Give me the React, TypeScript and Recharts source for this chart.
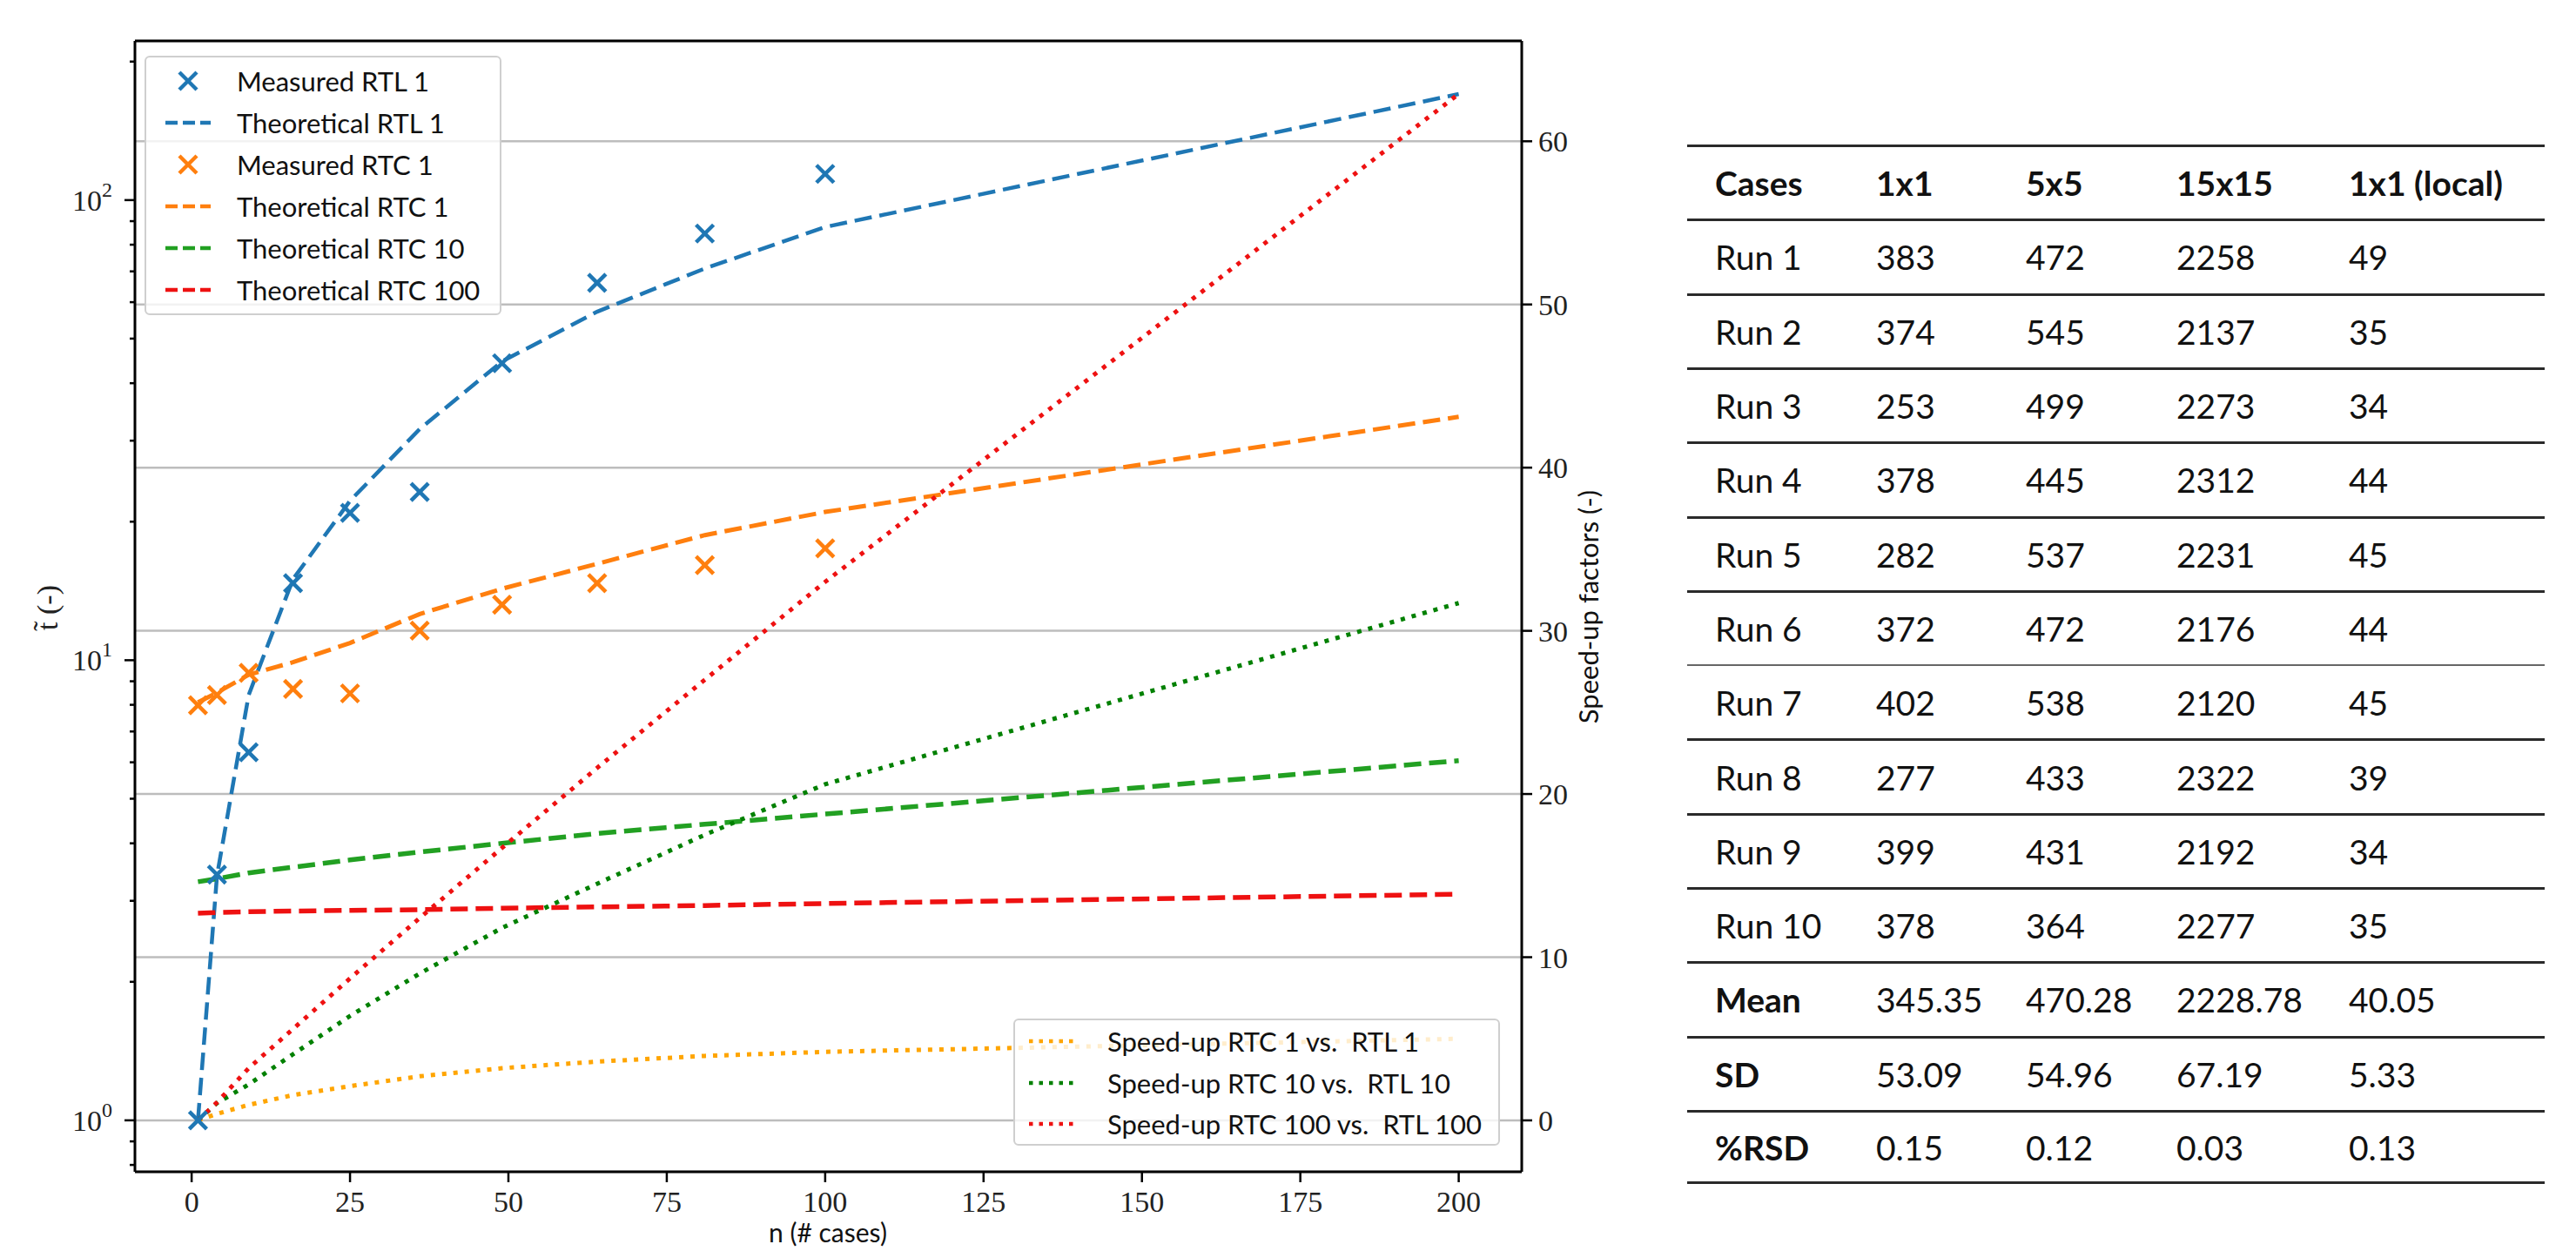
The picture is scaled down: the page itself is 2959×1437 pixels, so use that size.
import React from 'react';
import { ComposedChart, Line, Scatter, XAxis, YAxis, CartesianGrid, ReferenceLine } from 'recharts';

// n values where the theoretical curves and speed-ups are evaluated
const cases = [1, 4, 9, 16, 25, 36, 49, 64, 81, 100, 200];
const theoreticalRTL1 = [1.0, 3.4, 8.4, 15.0, 22.2, 31.8, 44.6, 57.2, 71.0, 87.4, 170];
const theoreticalRTC1 = [8.1, 8.5, 9.3, 9.9, 10.9, 12.6, 14.3, 16.2, 18.7, 21.0, 33.8];
const theoreticalRTC10 = [3.3, 3.35, 3.45, 3.55, 3.68, 3.83, 4.0, 4.2, 4.4, 4.63, 6.05];
const theoreticalRTC100 = [2.82, 2.83, 2.84, 2.85, 2.86, 2.87, 2.89, 2.91, 2.93, 2.96, 3.1];
const speedup1 = [0, 0.4, 0.95, 1.55, 2.1, 2.7, 3.2, 3.6, 3.95, 4.2, 5.0];
const speedup10 = [0, 1.06, 2.2, 4.05, 6.4, 9.0, 11.8, 14.5, 17.5, 20.6, 31.7];
const speedup100 = [0, 1.1, 3.2, 5.6, 8.7, 12.4, 16.7, 21.6, 27.0, 33.0, 62.9];

// measured points
const measuredCases = [1, 4, 9, 16, 25, 36, 49, 64, 81, 100];
const measuredRTL1 = [1.0, 3.42, 6.31, 14.7, 20.9, 23.2, 44.2, 66.1, 84.6, 114];
const measuredRTC1 = [7.98, 8.4, 9.39, 8.66, 8.47, 11.6, 13.2, 14.7, 16.1, 17.5];

const xTicks = [0, 25, 50, 75, 100, 125, 150, 175, 200];
const speedTicks = [0, 10, 20, 30, 40, 50, 60];
const logMajor = [1, 10, 100];
const logMinor = [0.8, 0.9, 2, 3, 4, 5, 6, 7, 8, 9, 20, 30, 40, 50, 60, 70, 80, 90, 200];

// table on the right
const tableHeader = ['Cases', '1x1', '5x5', '15x15', '1x1 (local)'];
const rowLabels = ['Run 1', 'Run 2', 'Run 3', 'Run 4', 'Run 5', 'Run 6', 'Run 7', 'Run 8', 'Run 9', 'Run 10', 'Mean', 'SD', '%RSD'];
const col1x1 = ['383', '374', '253', '378', '282', '372', '402', '277', '399', '378', '345.35', '53.09', '0.15'];
const col5x5 = ['472', '545', '499', '445', '537', '472', '538', '433', '431', '364', '470.28', '54.96', '0.12'];
const col15x15 = ['2258', '2137', '2273', '2312', '2231', '2176', '2120', '2322', '2192', '2277', '2228.78', '67.19', '0.03'];
const colLocal = ['49', '35', '34', '44', '45', '44', '45', '39', '34', '35', '40.05', '5.33', '0.13'];

const theoryData = cases.map((n, i) => ({
  n,
  rtl1: theoreticalRTL1[i],
  rtc1: theoreticalRTC1[i],
  rtc10: theoreticalRTC10[i],
  rtc100: theoreticalRTC100[i],
  s1: speedup1[i],
  s10: speedup10[i],
  s100: speedup100[i],
}));

const measuredData = measuredCases.map((n, i) => ({ n, rtl1: measuredRTL1[i], rtc1: measuredRTC1[i] }));

const BLUE = '#1f77b4';
const ORANGE = '#ff7f0e';
const GREEN = '#22a022';
const DARKGREEN = '#008000';
const RED = '#ee1111';
const GOLD = '#ffa500';

const SERIF = '"Liberation Serif", "DejaVu Serif", serif';
const SANS = 'Lato, "Open Sans", sans-serif';

const DASH = '20 9';
const DOT = '5 8';

const XMark = ({ cx, cy, color }: { cx?: number; cy?: number; color: string }) => {
  if (cx == null || cy == null) return null;
  const s = 10;
  return (
    <g stroke={color} strokeWidth={4.5}>
      <line x1={cx - s} y1={cy - s} x2={cx + s} y2={cy + s} />
      <line x1={cx - s} y1={cy + s} x2={cx + s} y2={cy - s} />
    </g>
  );
};

const LogTick = (props: any) => {
  const { x, y, payload } = props;
  const v = payload.value;
  const major = logMajor.includes(v);
  const exp = Math.round(Math.log10(v));
  return (
    <g>
      <line x1={x - (major ? 12 : 6)} x2={x} y1={y} y2={y} stroke="#000" strokeWidth={2.5} />
      {major && (
        <text x={x - 26} y={y + 12} textAnchor="end" fontFamily={SERIF} fontSize={34} fill="#222">
          10
          <tspan dy={-16} fontSize={24}>{exp}</tspan>
        </text>
      )}
    </g>
  );
};

const LegendSample = ({ color, dash, marker, width }: { color: string; dash?: string; marker?: boolean; width: number }) => (
  <svg width={56} height={24} style={{ display: 'block' }}>
    {marker ? (
      <XMark cx={28} cy={12} color={color} />
    ) : (
      <line x1={2} x2={54} y1={12} y2={12} stroke={color} strokeWidth={width} strokeDasharray={dash} />
    )}
  </svg>
);

const legendTop = [
  { label: 'Measured RTL 1', color: BLUE, marker: true },
  { label: 'Theoretical RTL 1', color: BLUE, dash: '14 6' },
  { label: 'Measured RTC 1', color: ORANGE, marker: true },
  { label: 'Theoretical RTC 1', color: ORANGE, dash: '14 6' },
  { label: 'Theoretical RTC 10', color: GREEN, dash: '14 6' },
  { label: 'Theoretical RTC 100', color: RED, dash: '14 6' },
];

const legendBottom = [
  { label: 'Speed-up RTC 1 vs.  RTL 1', color: GOLD },
  { label: 'Speed-up RTC 10 vs.  RTL 10', color: DARKGREEN },
  { label: 'Speed-up RTC 100 vs.  RTL 100', color: RED },
];

const legendBox: React.CSSProperties = {
  position: 'absolute',
  background: 'rgba(255,255,255,0.8)',
  border: '2px solid #cfcfcf',
  borderRadius: 6,
  boxSizing: 'border-box',
  fontFamily: SANS,
  fontSize: 31,
  color: '#111',
};

const ROW_H = 85.3;

const App = () => {
  const tableCols = [rowLabels, col1x1, col5x5, col15x15, colLocal];
  const colX = [32, 217, 389, 562, 760];
  return (
    <div style={{ position: 'absolute', left: 0, top: 0, width: 2959, height: 1437, background: '#fff', overflow: 'hidden' }}>
      <div style={{ position: 'absolute', left: 0, top: 0 }}>
        <ComposedChart width={1900} height={1437} data={theoryData} margin={{ top: 47, right: 0, bottom: 0, left: 0 }}>
          <CartesianGrid yAxisId="right" vertical={false} stroke="#bdbdbd" strokeWidth={2.5} />
          <XAxis
            dataKey="n"
            type="number"
            domain={[-8.95, 209.95]}
            allowDataOverflow
            ticks={xTicks}
            interval={0}
            height={91}
            tickSize={12}
            tickMargin={10}
            axisLine={{ stroke: '#000', strokeWidth: 3 }}
            tickLine={{ stroke: '#000', strokeWidth: 2.5 }}
            tick={{ fontFamily: SERIF, fontSize: 34, fill: '#222' }}
          />
          <YAxis
            yAxisId="left"
            scale="log"
            type="number"
            domain={[0.773, 221.8]}
            allowDataOverflow
            ticks={[...logMinor.slice(0, 2), 1, ...logMinor.slice(2, 10), 10, ...logMinor.slice(10, 18), 100, 200]}
            interval={0}
            width={155}
            tickSize={0}
            tickMargin={0}
            tickLine={false}
            axisLine={{ stroke: '#000', strokeWidth: 3 }}
            tick={<LogTick />}
          />
          <YAxis
            yAxisId="right"
            orientation="right"
            type="number"
            domain={[-3.15, 66.15]}
            allowDataOverflow
            ticks={speedTicks}
            interval={0}
            width={152}
            tickSize={12}
            tickMargin={7}
            axisLine={{ stroke: '#000', strokeWidth: 3 }}
            tickLine={{ stroke: '#000', strokeWidth: 2.5 }}
            tick={{ fontFamily: SERIF, fontSize: 34, fill: '#222' }}
          />
          <ReferenceLine yAxisId="right" y={66.15} stroke="#000" strokeWidth={3} />

          <Line yAxisId="left" dataKey="rtl1" type="linear" stroke={BLUE} strokeWidth={4.5} strokeDasharray={DASH} dot={false} isAnimationActive={false} />
          <Line yAxisId="left" dataKey="rtc1" type="linear" stroke={ORANGE} strokeWidth={5} strokeDasharray={DASH} dot={false} isAnimationActive={false} />
          <Line yAxisId="left" dataKey="rtc10" type="linear" stroke={GREEN} strokeWidth={5.5} strokeDasharray={DASH} dot={false} isAnimationActive={false} />
          <Line yAxisId="left" dataKey="rtc100" type="linear" stroke={RED} strokeWidth={5.5} strokeDasharray={DASH} dot={false} isAnimationActive={false} />

          <Line yAxisId="right" dataKey="s1" type="linear" stroke={GOLD} strokeWidth={5} strokeDasharray={DOT} dot={false} isAnimationActive={false} />
          <Line yAxisId="right" dataKey="s10" type="linear" stroke={DARKGREEN} strokeWidth={5} strokeDasharray={DOT} dot={false} isAnimationActive={false} />
          <Line yAxisId="right" dataKey="s100" type="linear" stroke={RED} strokeWidth={5} strokeDasharray={DOT} dot={false} isAnimationActive={false} />

          <Scatter yAxisId="left" data={measuredData} dataKey="rtl1" isAnimationActive={false} shape={(p: any) => <XMark cx={p.cx} cy={p.cy} color={BLUE} />} />
          <Scatter yAxisId="left" data={measuredData} dataKey="rtc1" isAnimationActive={false} shape={(p: any) => <XMark cx={p.cx} cy={p.cy} color={ORANGE} />} />
        </ComposedChart>
      </div>

      {/* upper-left legend */}
      <div style={{ ...legendBox, left: 166, top: 64, width: 410, height: 298 }}>
        {legendTop.map((e, i) => (
          <div key={e.label} style={{ position: 'absolute', left: 20, top: 27 + i * 48 - 12, height: 24, display: 'flex', alignItems: 'center' }}>
            <LegendSample color={e.color} dash={e.dash} marker={e.marker} width={4.5} />
            <span style={{ marginLeft: 28, lineHeight: '24px', whiteSpace: 'pre' }}>{e.label}</span>
          </div>
        ))}
      </div>

      {/* lower-right legend */}
      <div style={{ ...legendBox, left: 1164, top: 1170, width: 559, height: 146 }}>
        {legendBottom.map((e, i) => (
          <div key={e.label} style={{ position: 'absolute', left: 14, top: 24 + i * 47.5 - 12, height: 24, display: 'flex', alignItems: 'center' }}>
            <LegendSample color={e.color} dash="4.5 7" width={4.5} />
            <span style={{ marginLeft: 36, lineHeight: '24px', whiteSpace: 'pre' }}>{e.label}</span>
          </div>
        ))}
      </div>

      {/* axis labels */}
      <div style={{ position: 'absolute', left: 55, top: 698, transform: 'translate(-50%, -50%) rotate(-90deg)', fontFamily: SERIF, fontSize: 34, color: '#222', whiteSpace: 'nowrap' }}>
        t&#771; (-)
      </div>
      <div style={{ position: 'absolute', left: 1824, top: 697, transform: 'translate(-50%, -50%) rotate(-90deg)', fontFamily: SANS, fontSize: 31, color: '#111', whiteSpace: 'nowrap' }}>
        Speed-up factors (-)
      </div>
      <div style={{ position: 'absolute', left: 951, top: 1397, lineHeight: '36px', transform: 'translateX(-50%)', fontFamily: SANS, fontSize: 30, color: '#111', whiteSpace: 'nowrap' }}>
        n (# cases)
      </div>

      {/* table */}
      <div style={{ position: 'absolute', left: 1938, top: 166, width: 985, fontFamily: SANS, fontSize: 39, color: '#111' }}>
        {[tableHeader, ...rowLabels.map((_, r) => tableCols.map((c) => c[r]))].map((row, r) => {
          const bold = r === 0;
          const thin = r === 7;
          return (
            <div
              key={r}
              style={{
                position: 'absolute',
                left: 0,
                top: r * ROW_H,
                width: 985,
                height: ROW_H,
                borderTop: thin ? '2px solid #666' : '3.5px solid #2a2a2a',
                borderBottom: r === 13 ? '3.5px solid #2a2a2a' : undefined,
                boxSizing: 'border-box',
              }}
            >
              {row.map((cell, c) => (
                <div
                  key={c}
                  style={{
                    position: 'absolute',
                    left: colX[c],
                    top: 0,
                    height: '100%',
                    display: 'flex',
                    alignItems: 'center',
                    fontWeight: bold || (c === 0 && r >= 11) ? 700 : 400,
                    whiteSpace: 'nowrap',
                  }}
                >
                  {cell}
                </div>
              ))}
            </div>
          );
        })}
      </div>
    </div>
  );
};

export default App;
